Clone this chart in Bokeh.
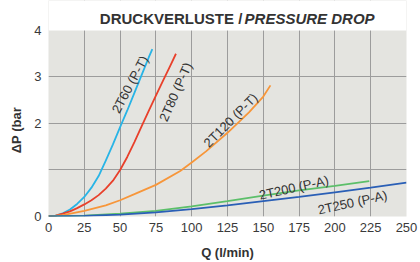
from bokeh.plotting import figure
from bokeh.models import Range1d, FixedTicker, Label, BoxAnnotation
from bokeh.core.properties import value
from bokeh.embed import file_html
from bokeh.resources import INLINE
import math

# ---- data ----
x_ticks = [0, 25, 50, 75, 100, 125, 150, 175, 200, 225, 250]
y_ticks = [0, 1, 2, 3, 4]
y_tick_labels = {0: "0", 1: "", 2: "2", 3: "3", 4: "4"}

q_2t60 = [0, 5, 10, 15, 20, 25, 30, 35, 40, 45, 50, 55, 60, 65, 70, 72.5]
dp_2t60 = [0, 0.02, 0.07, 0.15, 0.27, 0.42, 0.62, 0.87, 1.2, 1.55, 1.92, 2.28, 2.66, 3.04, 3.42, 3.6]

q_2t80 = [0, 5, 10, 15, 20, 25, 30, 35, 40, 45, 50, 55, 60, 65, 70, 75, 80, 85, 89]
dp_2t80 = [0, 0.02, 0.06, 0.11, 0.18, 0.26, 0.35, 0.46, 0.6, 0.77, 1.0, 1.28, 1.6, 1.94, 2.27, 2.6, 2.92, 3.24, 3.5]

q_2t120 = [0, 10, 25, 40, 50, 60, 75, 92, 100, 110, 125, 140, 150, 155]
dp_2t120 = [0, 0.03, 0.12, 0.24, 0.35, 0.48, 0.68, 0.98, 1.16, 1.4, 1.8, 2.24, 2.58, 2.82]

q_2t200 = [0, 25, 50, 75, 100, 125, 150, 175, 200, 224]
dp_2t200 = [0, 0.02, 0.06, 0.12, 0.22, 0.33, 0.45, 0.56, 0.66, 0.76]

q_2t250 = [0, 25, 50, 75, 100, 125, 150, 175, 200, 225, 250]
dp_2t250 = [0, 0.015, 0.04, 0.09, 0.16, 0.24, 0.33, 0.42, 0.52, 0.62, 0.73]

series_names = ["2T60 (P-T)", "2T80 (P-T)", "2T120 (P-T)", "2T200 (P-A)", "2T250 (P-A)"]
# label anchor (q, dp) and angle in degrees
label_q = [56.9, 88.8, 127.2, 171.4, 212.3]
label_dp = [2.84, 2.68, 2.07, 0.62, 0.30]
label_angle = [62, 66, 45, 12.5, 12.5]

colors = ["#28b4e6", "#e8402b", "#f7963a", "#5cbf6a", "#2a5fb6"]

title_main = "DRUCKVERLUSTE /"
title_italic = "PRESSURE DROP"

FONT = "Liberation Sans"

Y_MAX = 4
Y_TOP = 4.645   # room above the chart area for the title

p = figure(width=420, height=262, output_backend="svg", toolbar_location=None,
           x_range=Range1d(0, 250), y_range=Range1d(0, Y_TOP),
           min_border_left=48, min_border_right=14, min_border_top=0, min_border_bottom=46)

p.background_fill_color = "#e4e4e0"
p.border_fill_color = "white"
p.outline_line_color = None

p.xaxis.ticker = FixedTicker(ticks=x_ticks)
p.yaxis.ticker = FixedTicker(ticks=y_ticks)
p.yaxis.major_label_overrides = y_tick_labels
for ax in (p.xaxis, p.yaxis):
    ax.axis_line_color = None
    ax.major_tick_line_color = None
    ax.minor_tick_line_color = None
    ax.major_tick_out = 0
    ax.major_tick_in = 0
    ax.major_label_text_font = FONT
    ax.major_label_text_font_size = "13px"
    ax.major_label_text_color = "#3a3a3a"
    ax.axis_label_text_font = FONT
    ax.axis_label_text_font_style = "bold"
    ax.axis_label_text_font_size = "13px"
    ax.axis_label_text_color = "#333333"

p.xaxis.axis_label = "Q (l/min)"
# non-breaking spaces keep the rotated label centred on the 0-4 area, as in the reference
p.yaxis.axis_label = "ΔP (bar" + "\u00a0" * 12
p.xaxis.major_label_standoff = 6
p.xaxis.axis_label_standoff = 10
p.yaxis.major_label_standoff = 7
p.yaxis.axis_label_standoff = 7

p.xgrid.ticker = FixedTicker(ticks=x_ticks)
p.ygrid.ticker = FixedTicker(ticks=[1, 2, 3])
p.grid.grid_line_color = "#9c9c9c"
p.grid.grid_line_width = 1

# white band above the 0-4 chart area (title area)
p.add_layout(BoxAnnotation(bottom=Y_MAX, fill_color="white", fill_alpha=1.0,
                           line_color=None, level="annotation"))

for q, dp, c in zip([q_2t60, q_2t80, q_2t120, q_2t200, q_2t250],
                    [dp_2t60, dp_2t80, dp_2t120, dp_2t200, dp_2t250], colors):
    p.line(q, dp, line_color=c, line_width=1.8)

p.text(x=label_q, y=label_dp, text=series_names,
       angle=[math.radians(a) for a in label_angle],
       text_align="center", text_baseline="middle",
       text_font=value(FONT), text_font_size="13px", text_color="#333333")

p.add_layout(Label(x=85.6, y=4.26, text=title_main, text_align="center", text_baseline="middle",
                   text_font=FONT, text_font_style="bold", text_font_size="15px",
                   text_color="#333333"))
p.add_layout(Label(x=182.3, y=4.26, text=title_italic, text_align="center", text_baseline="middle",
                   text_font=FONT, text_font_style="bold italic", text_font_size="15px",
                   text_color="#333333"))

open("out.html", "w").write(file_html(p, INLINE))
